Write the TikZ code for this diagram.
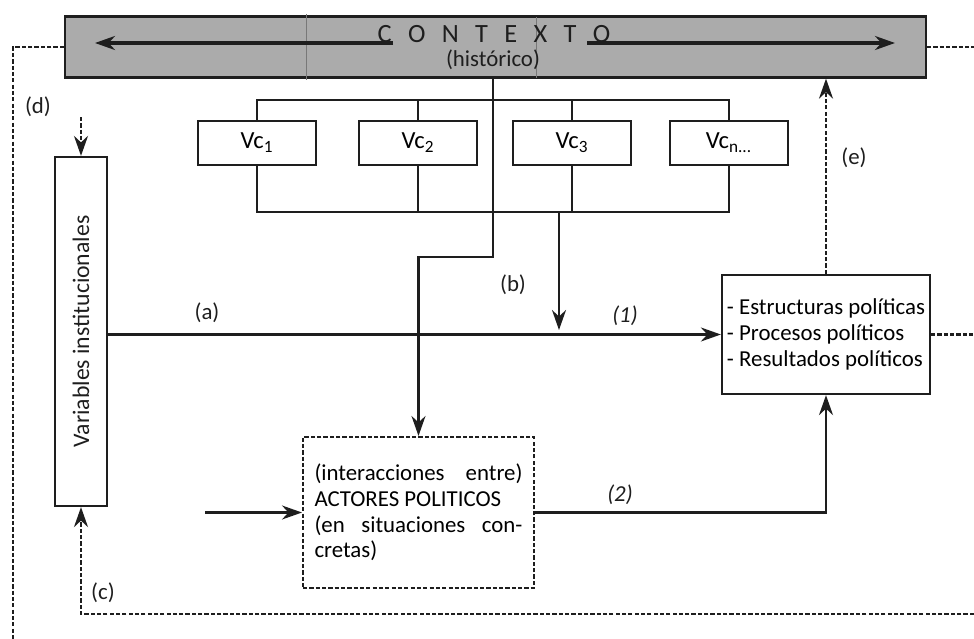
\documentclass[tikz,border=0pt]{standalone}
\usepackage{fontspec}
\setmainfont{Carlito}
\usetikzlibrary{arrows.meta}
\definecolor{ink}{HTML}{1E1E1E}
\definecolor{barfill}{HTML}{ABABAB}
\newcommand{\ls}{\hspace{0.62em}}
\tikzset{
  box/.style={draw=ink, line width=1.3pt, fill=white, inner sep=0pt},
  vcbox/.style={box, minimum width=2.36cm, minimum height=0.88cm, font=\fontsize{14}{16}\selectfont},
  link/.style={draw=ink, line width=1.3pt},
  arr/.style={link, -{Stealth[length=4mm,width=2.8mm,inset=1.3mm]}},
  dsh/.style={link, line width=1.2pt, dash pattern=on 2.4pt off 1.2pt},
  lab/.style={text=ink, font=\fontsize{13}{15}\selectfont},
}

\begin{document}
\begin{tikzpicture}[x=0.02cm, y=-0.02cm]
  \useasboundingbox (0,0) rectangle (974,639);

  % context bar
  \node[box, fill=barfill, minimum width=17.22cm, minimum height=1.22cm] (ctx) at (495.5,47) {};
  \draw[ink!60, line width=0.4pt] (306,14) -- (306,80);
  \draw[ink!60, line width=0.4pt] (536,17) -- (536,78);
  \node[lab, font=\fontsize{15}{17}\selectfont] (ctxname) at (494,34) {C\ls O\ls N\ls T\ls E\ls X\ls T\ls O};
  \node[lab] (ctxsub) at (493,60) {(histórico)};
  \coordinate (lstart) at (393,43);   % left arrow
  \coordinate (lend) at (95,43);
  \coordinate (rstart) at (587,43);   % right arrow
  \coordinate (rend) at (895,43);
  \draw[arr, line width=1.8pt] (lstart) -- (lend);
  \draw[arr, line width=1.8pt] (rstart) -- (rend);

  % cultural variables
  \node[vcbox] (vc1) at (257,143) {Vc\textsubscript{1}};
  \node[vcbox] (vc2) at (418,143) {Vc\textsubscript{2}};
  \node[vcbox] (vc3) at (572,143) {Vc\textsubscript{3}};
  \node[vcbox] (vcn) at (729,143) {Vc\textsubscript{n...}};
  \coordinate (tb) at (0,100);   % top bracket
  \coordinate (bb) at (0,212);   % bottom bracket
  \draw[link] (vc1.north) -- (vc1.north |- tb) -- (vcn.north |- tb) -- (vcn.north);
  \draw[link] (vc2.north) -- (vc2.north |- tb);
  \draw[link] (vc3.north) -- (vc3.north |- tb);
  \draw[link] (vc1.south) -- (vc1.south |- bb) -- (vcn.south |- bb) -- (vcn.south);
  \draw[link] (vc2.south) -- (vc2.south |- bb);
  \draw[link] (vc3.south) -- (vc3.south |- bb);

  % main boxes
  \node[box, minimum width=1.04cm, minimum height=6.98cm] (vars) at (81,331.5) {};
  \node[lab, rotate=90, font=\fontsize{13.5}{15}\selectfont] (varstxt) at (vars) {Variables institucionales};
  \node[box, minimum width=4.16cm, minimum height=2.38cm, align=left, inner xsep=2pt,
        font=\fontsize{13}{15}\selectfont] (res) at (826,334.5)
        {- Estructuras políticas\\- Procesos políticos\\- Resultados políticos};
  \node[box, dsh, minimum width=4.62cm, minimum height=3.02cm,
        font=\fontsize{13}{14.6}\selectfont] (actors) at (418.5,512.5)
        {\parbox{4.16cm}{(interacciones\hfill entre)\\ACTORES POLITICOS\\(en\hfill situaciones\hfill con-\\cretas)}};

  % connectors
  \coordinate (bend) at (493,257);
  \draw[arr] (ctx.south -| bend) -- (bend) -| (actors.north);
  \coordinate (bdrop) at (559,212);
  \coordinate (bhit) at (559,330);
  \draw[arr] (bdrop) -- (bhit);
  \draw[arr] (vars.east |- res.west) -- (res.west);
  \coordinate (ain) at (205,512.5);
  \draw[arr] (ain) -- (actors.west);
  \draw[arr] (actors.east) -| (res.south);

  % feedback loops
  \coordinate (dtop) at (81,117);
  \draw[dsh, arr] (dtop) -- (vars.north);
  \draw[dsh, arr] (res.north) -- (res.north |- ctx.south);
  \coordinate (lfoot) at (13,639);
  \draw[dsh] (ctx.west) -| (lfoot);
  \coordinate (rout) at (974,47);
  \draw[dsh] (ctx.east) -- (rout);
  \coordinate (resout) at (974,334.5);
  \draw[dsh] (res.east) -- (resout);
  \coordinate (cright) at (974,614);
  \draw[dsh, arr] (cright) -| (vars.south);

  % labels
  \node[lab] (la) at (207,313) {(a)};
  \node[lab] (lb) at (513,285) {(b)};
  \node[lab] (lc) at (103,593) {(c)};
  \node[lab] (ld) at (38,107) {(d)};
  \node[lab] (le) at (854,158) {(e)};
  \node[lab, font=\fontsize{13}{15}\selectfont\itshape] (l1) at (625,316) {(1)};
  \node[lab, font=\fontsize{13}{15}\selectfont\itshape] (l2) at (620,495) {(2)};
\end{tikzpicture}
\end{document}
